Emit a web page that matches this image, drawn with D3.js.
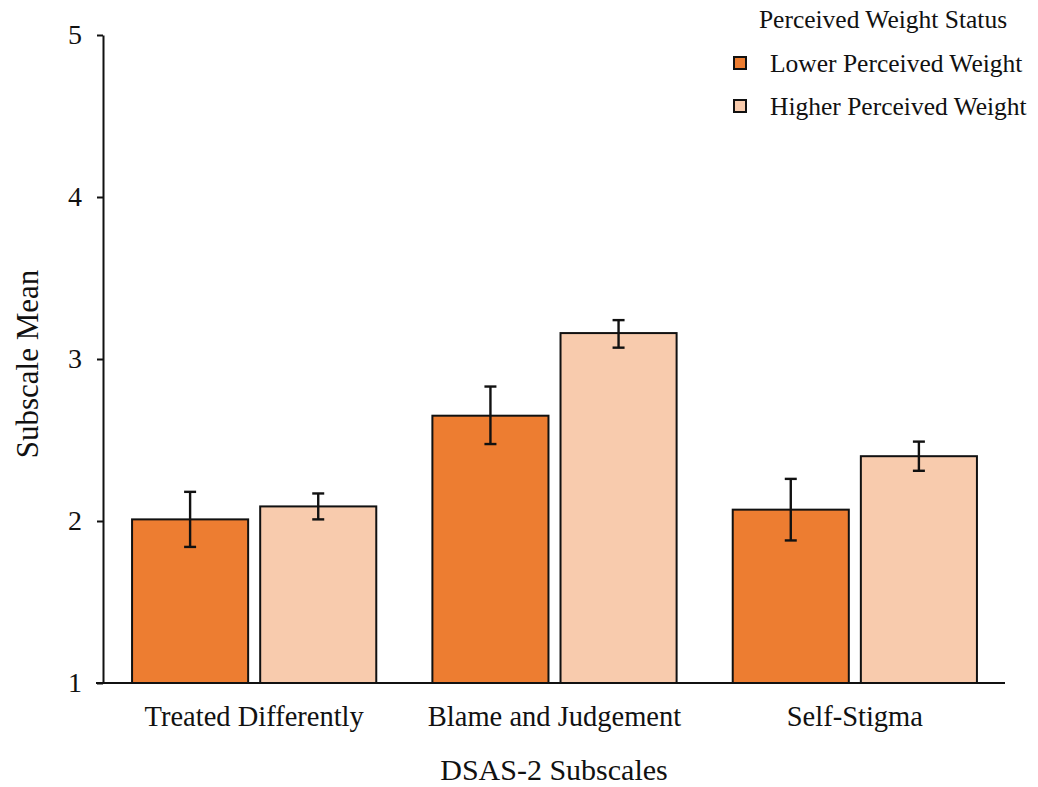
<!DOCTYPE html>
<html><head><meta charset="utf-8">
<script src="https://cdn.jsdelivr.net/npm/d3@7"></script>
<style>body{margin:0;background:#fff}svg{display:block}text{font-family:"Liberation Serif","Times New Roman",serif;fill:#111}</style>
</head><body>
<svg id="c" width="1038" height="787"></svg>
<script>
const categories = ["Treated Differently", "Blame and Judgement", "Self-Stigma"];
const seriesNames = ["Lower Perceived Weight", "Higher Perceived Weight"];
const lowerMeans = [2.01, 2.65, 2.07];
const lowerErrLow = [1.84, 2.475, 1.88];
const lowerErrHigh = [2.18, 2.83, 2.26];
const higherMeans = [2.09, 3.16, 2.40];
const higherErrLow = [2.01, 3.07, 2.31];
const higherErrHigh = [2.17, 3.24, 2.49];
const yTicks = [1, 2, 3, 4, 5];
const colors = ["#ED7D31", "#F8CBAD"];

const svg = d3.select("#c");
const x0 = d3.scaleBand().domain(categories).range([104, 1005]).paddingInner(0).paddingOuter(0);
const x1 = d3.scaleBand().domain(seriesNames).range([0, x0.bandwidth()]).paddingInner(0.094).paddingOuter(0.219);
const y = d3.scaleLinear().domain([1, 5]).range([683, 35]);

const rows = [];
categories.forEach((c, i) => {
  rows.push({cat: c, s: 0, v: lowerMeans[i], lo: lowerErrLow[i], hi: lowerErrHigh[i]});
  rows.push({cat: c, s: 1, v: higherMeans[i], lo: higherErrLow[i], hi: higherErrHigh[i]});
});

// bars
svg.append("g").selectAll("rect").data(rows).join("rect")
  .attr("x", d => x0(d.cat) + x1(seriesNames[d.s]))
  .attr("width", x1.bandwidth())
  .attr("y", d => y(d.v))
  .attr("height", d => y(1) - y(d.v))
  .attr("fill", d => colors[d.s])
  .attr("stroke", "#111").attr("stroke-width", 2);

// error bars
const eg = svg.append("g").attr("stroke", "#111").attr("stroke-width", 2.4);
rows.forEach(d => {
  const cx = x0(d.cat) + x1(seriesNames[d.s]) + x1.bandwidth() / 2;
  eg.append("line").attr("x1", cx).attr("x2", cx).attr("y1", y(d.lo)).attr("y2", y(d.hi));
  eg.append("line").attr("x1", cx - 6).attr("x2", cx + 6).attr("y1", y(d.lo)).attr("y2", y(d.lo));
  eg.append("line").attr("x1", cx - 6).attr("x2", cx + 6).attr("y1", y(d.hi)).attr("y2", y(d.hi));
});

// y axis
const ya = svg.append("g").attr("transform", "translate(103,0)")
  .call(d3.axisLeft(y).tickValues(yTicks).tickSize(6).tickSizeOuter(0).tickPadding(15).tickFormat(d3.format("d")));
ya.select(".domain").attr("stroke", "#111").attr("stroke-width", 2);
ya.selectAll(".tick line").attr("stroke", "#111").attr("stroke-width", 2);
ya.selectAll(".tick text").style("font-size", "28px").style("font-family", "Liberation Serif").attr("fill", "#111");

// x axis
const xa = svg.append("g").attr("transform", "translate(0,683)")
  .call(d3.axisBottom(x0).tickSize(0).tickPadding(23));
xa.select(".domain").attr("d", "M96,0H1005").attr("stroke", "#111").attr("stroke-width", 2);
xa.selectAll(".tick text").style("font-size", "28.5px").style("font-family", "Liberation Serif").attr("fill", "#111");

// axis titles
svg.append("text").attr("transform", "translate(38,364) rotate(-90)").attr("text-anchor", "middle")
  .style("font-size", "31px").text("Subscale Mean");
svg.append("text").attr("x", 554).attr("y", 780).attr("text-anchor", "middle")
  .style("font-size", "30px").text("DSAS-2 Subscales");

// legend
svg.append("text").attr("x", 883).attr("y", 28).attr("text-anchor", "middle")
  .style("font-size", "25.5px").text("Perceived Weight Status");
const lg = svg.append("g").selectAll("g").data(seriesNames).join("g")
  .attr("transform", (d, i) => `translate(734,${57 + i * 43})`);
lg.append("rect").attr("width", 12).attr("height", 12).attr("fill", (d, i) => colors[i])
  .attr("stroke", "#111").attr("stroke-width", 2);
lg.append("text").attr("x", 36).attr("y", 15).style("font-size", "25.5px").text(d => d);
</script>
</body></html>
